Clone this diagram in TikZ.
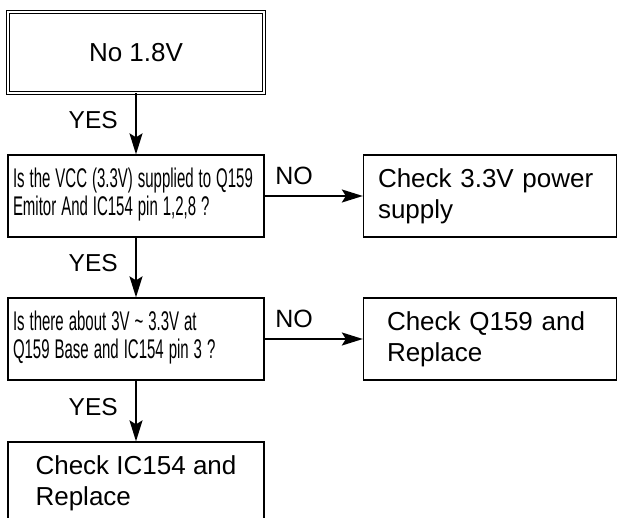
\documentclass[tikz,border=0pt]{standalone}
\usepackage{fontspec}
\setmainfont{Liberation Sans}
\usetikzlibrary{arrows.meta}

\newcommand\squeezed[1]{\scalebox{0.555}[1]{\begin{tabular}{@{}l@{}}#1\end{tabular}}}

\tikzset{
  box/.style={draw, line width=1.3pt, minimum width=256pt, minimum height=82pt,
    align=left, font=\fontsize{26}{31}\selectfont},
  askbox/.style={box, text width=246pt, inner xsep=5pt,
    font=\fontsize{27}{27}\selectfont},
  flow/.style={line width=1.8pt, -{Stealth[length=21pt, width=13pt, inset=4pt]}},
  yes/.style={pos=0.43, anchor=east, xshift=-14pt, font=\fontsize{24.5}{28}\selectfont},
  no/.style={pos=0.3, anchor=south, yshift=7pt, font=\fontsize{25}{28}\selectfont},
}

\begin{document}
\begin{tikzpicture}[x=1pt, y=-1pt]
\useasboundingbox (0,0) rectangle (618,518);

\node[box, double, double distance=1.6pt, line width=0.8pt, minimum height=81pt] (start) at (136, 52.5) {No 1.8V};
\node[askbox] (vcc) at (136, 196) {\squeezed{Is the VCC (3.3V) supplied to Q159\\Emitor And IC154 pin 1,2,8 ?}};
\node[box, minimum width=253pt, text width=224pt, inner xsep=14.5pt] (power) at (490, 196) {Check 3.3V power\\supply};
\node[askbox] (base) at (136, 339) {\squeezed{Is there about 3V \char`\~{} 3.3V at\\Q159 Base and IC154 pin 3 ?}};
\node[box, minimum width=253pt, text width=206pt, inner xsep=23.5pt] (q159) at (490, 339) {Check Q159 and\\Replace};
\node[box] (ic154) at (136, 483) {Check IC154 and\\Replace};

\draw[flow] (start) edge node[yes] {YES} (vcc);
\draw[flow] (vcc) edge node[no] {NO} (power);
\draw[flow] (vcc) edge node[yes] {YES} (base);
\draw[flow] (base) edge node[no] {NO} (q159);
\draw[flow] (base) edge node[yes] {YES} (ic154);

\end{tikzpicture}
\end{document}
